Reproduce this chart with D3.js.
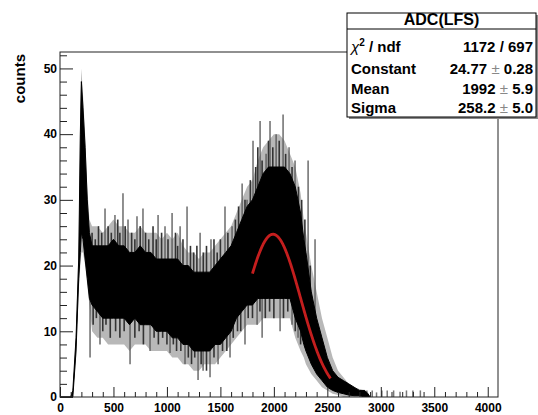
<!DOCTYPE html>
<html><head><meta charset="utf-8">
<script src="https://cdn.jsdelivr.net/npm/d3@7"></script>
<style>
body{margin:0;background:#fff}
text{font-family:"Liberation Sans",Arial,sans-serif;font-weight:bold;fill:#000}
</style>
</head><body>
<svg id="c" width="538" height="415"></svg>
<script>
// ---- data (histogram envelope per ADC position) ----
const adc    = [0,100,120,150,175,190,200,215,235,255,275,300,350,400,450,500,550,600,650,700,750,800,850,900,950,1000,1050,1100,1150,1200,1250,1300,1350,1400,1450,1500,1550,1600,1650,1700,1750,1800,1850,1900,1950,2000,2050,2100,2150,2200,2250,2280,2300,2350,2400,2450,2500,2550,2600,2650,2700,2750,2800,2850,2880,2900];
const haloLo = [0,0,0,6,16,20,22,22,20,17,14,10,9,9,8,8,8,8,7,8,8,8,7,7,7,7,6,6,5,5,4,4,5,5,5,6,7,8,9,10,11,11,11,12,12,12,12,12,12,9,7,6,5,3.5,2.5,1.5,1,0.5,0.3,0,0,0,0,0,0,0];
const coreLo = [0,0,0,7,18,22,25,24,21,18,15,14,13,12,12,12,12,12,11,12,11,11,11,10,10,10,9,9,8,8,7,7,7,7,8,8,9,10,12,13,14,14,15,15,15,15,15,15,15,12,10,8,7,5,3.5,2.5,1.5,1,0.7,0.5,0.3,0.2,0.2,0,0,0];
const coreHi = [0,0,1,9,21,40,48,44,38,30,25,23,23,23,23,24,23,23,22,22,23,22,22,21,21,21,21,21,20,20,19,19,19,19,20,21,22,23,25,27,29,30,32,34,35,35,35,35,34,32,28,24,22,16,12,9,6,4,3,2.5,2,1.5,1,1,0.5,0];
const haloHi = [0,0,1,10,24,45,50,46,40,32,27,26,26,25,26,27,26,26,25,25,26,25,25,25,24,25,24,25,23,22,22,21,22,22,23,24,25,26,28,30,32,33,36,38,39,40,40,39,37,35,31,27,25,20,16,12,9,6,4,3,2,1.5,1.2,1,0.5,0];

const spikeUpAdc   = [421,514,589,636,720,776,917,982,1048,1123,1188,1310,1412,1543,1609,1703,1749,1805,1871,1927,1964,2021,2086,2142,2198,2320,2385];
const spikeUpCount = [28.7,27.7,31,27,27.5,28.7,27.7,26,28,26,29,25,24,29,26,32.5,30,39,42,37,42,40,43,38,36,36,24];
const spikeDownAdc   = [281,374,655,842,1029,1169,1291,1338,1403,1478,1590,1730,1843,1890,2058,2170,2226];
const spikeDownCount = [6,8,5,7,6.7,5,2.6,4,3,5,6,8,11,9,10,11,9];
// smaller fluctuations along the band edges
const fineUpAdc   = [300,330,360,390,450,480,540,560,610,670,700,750,800,830,870,900,950,1010,1080,1100,1150,1220,1250,1280,1340,1370,1440,1470,1500,1570,1640,1670,1730,1780,1830,1850,1890,1950,1990,2050,2110,2170,2230,2260,2290,2340];
const fineUpCount = [25,24,26,25,26,25,27,25,26,25,24,26,25,24,26,24,25,24,25,23,24,23,22,23,22,23,24,22,24,25,27,29,30,33,35,38,36,39,38,39,37,35,32,30,27,20];
const fineDownAdc   = [310,340,400,430,470,520,560,600,700,740,780,880,920,960,1000,1060,1090,1130,1200,1230,1260,1320,1370,1440,1520,1560,1620,1660,1690,1760,1800,1870,1920,1960,2000,2090,2130,2200,2250];
const fineDownCount = [11,12,10,11,9,10,9,10,9,10,8,9,8,9,8,8,7,7,6,5,6,5,4,6,7,7,9,10,10,12,12,13,12,13,12,12,13,10,8];
const tailAdc   = [2870,2920,2960,3010,3060,3120,3180,3240,3300,3370];
const tailCount = [1,1,0.7,1,1,1,0.8,1,1,1];

// fit parameters (stat box)
const statTitle = "ADC(LFS)";
const chi2 = "1172 / 697";
const statNames  = ["Constant","Mean","Sigma"];
const statValues = ["24.77","1992","258.2"];
const statErrors = ["0.28","5.9","5.0"];
const fitConstant = 24.77, fitMean = 1992, fitSigma = 258.2;
const fitRange = [1800, 2530];

const xTicks = [0,500,1000,1500,2000,2500,3000,3500,4000];
const yTicks = [0,10,20,30,40,50];
const yTitle = "counts";

// ---- drawing ----
const svg = d3.select("#c");
const x = d3.scaleLinear([0,4096],[60,498]);
const y = d3.scaleLinear([0,52.5],[397,52]);

svg.append("defs").append("clipPath").attr("id","clip").append("rect")
  .attr("x",60).attr("y",52).attr("width",438).attr("height",345);

const g = svg.append("g").attr("clip-path","url(#clip)");
const pts = adc.map((a,i)=>({a,hl:haloLo[i],cl:coreLo[i],ch:coreHi[i],hh:haloHi[i]}));

g.append("path").datum(pts)
  .attr("d", d3.area().x(d=>x(d.a)).y0(d=>y(d.hl)).y1(d=>y(d.hh)))
  .attr("fill","#b8b8b8");

const hiAt = d3.scaleLinear(adc, coreHi), loAt = d3.scaleLinear(adc, coreLo);
function spikes(xs, ys, up, color, w){
  g.append("g").selectAll("line").data(xs).join("line")
    .attr("x1",d=>x(d)).attr("x2",d=>x(d))
    .attr("y1",d=>y(up?hiAt(d)-1:loAt(d)+1)).attr("y2",(d,i)=>y(ys[i]))
    .attr("stroke",color).attr("stroke-width",w);
}
spikes(fineUpAdc, fineUpCount, true, "#333", 1.6);
spikes(fineDownAdc, fineDownCount, false, "#333", 1.6);
spikes(spikeUpAdc, spikeUpCount, true, "#555", 1.3);
spikes(spikeDownAdc, spikeDownCount, false, "#555", 1.3);
g.append("g").selectAll("line").data(tailAdc).join("line")
  .attr("x1",d=>x(d)).attr("x2",d=>x(d))
  .attr("y1",y(0)).attr("y2",(d,i)=>y(tailCount[i]))
  .attr("stroke","#777").attr("stroke-width",1.5);

g.append("path").datum(pts)
  .attr("d", d3.area().x(d=>x(d.a)).y0(d=>y(d.cl)).y1(d=>y(d.ch)))
  .attr("fill","#000").attr("stroke","#000").attr("stroke-width",1);

// fit curve
const fitPts = d3.range(fitRange[0], fitRange[1]+1, 5);
g.append("path").datum(fitPts)
  .attr("d", d3.line().x(d=>x(d)).y(d=>y(fitConstant*Math.exp(-0.5*((d-fitMean)/fitSigma)**2))))
  .attr("fill","none").attr("stroke","#c41e1e").attr("stroke-width",2.8);

// frame
svg.append("rect").attr("x",60).attr("y",52).attr("width",438).attr("height",345)
  .attr("fill","none").attr("stroke","#222").attr("stroke-width",1);

// axes
const xa = svg.append("g").attr("transform","translate(0,397)")
  .call(d3.axisBottom(x).tickValues(xTicks).tickSize(-10).tickPadding(6.5).tickFormat(d3.format("d")));
const xm = svg.append("g").attr("transform","translate(0,397)")
  .call(d3.axisBottom(x).tickValues(d3.range(0,4097,100).filter(v=>v%500)).tickSize(-5).tickFormat(""));
const ya = svg.append("g").attr("transform","translate(60,0)")
  .call(d3.axisLeft(y).tickValues(yTicks).tickSize(-13).tickPadding(3).tickFormat(d3.format("d")));
const ym = svg.append("g").attr("transform","translate(60,0)")
  .call(d3.axisLeft(y).tickValues(d3.range(0,53,2).filter(v=>v%10)).tickSize(-7).tickFormat(""));
[xa,xm,ya,ym].forEach(a=>{a.select(".domain").remove();a.selectAll("line").attr("stroke","#222");
  a.selectAll("text").style("font-family","Liberation Sans, Arial, sans-serif").style("font-weight","bold").style("font-size","12px").attr("fill","#000");});

svg.append("text").attr("transform","translate(25,54) rotate(-90)")
  .attr("text-anchor","end").style("font-size","15px").text(yTitle);

// stat box
const bx=347, by=13, bw=189, bh=104;
svg.append("rect").attr("x",bx+2).attr("y",by+2).attr("width",bw).attr("height",bh).attr("fill","#888");
svg.append("rect").attr("x",bx).attr("y",by).attr("width",bw).attr("height",bh)
  .attr("fill","#fff").attr("stroke","#000").attr("stroke-width",1);
svg.append("line").attr("x1",bx).attr("x2",bx+bw).attr("y1",29).attr("y2",29).attr("stroke","#000");
svg.append("text").attr("x",bx+bw/2).attr("y",25).attr("text-anchor","middle")
  .style("font-size","16px").text(statTitle);
const rowY=[52,74,94,113];
const chiT = svg.append("text").attr("x",bx+4).attr("y",rowY[0]).style("font-size","15px");
chiT.append("tspan").style("font-weight","normal").style("font-style","italic").text("χ");
chiT.append("tspan").attr("dy",-6).style("font-size","10px").text("2");
chiT.append("tspan").attr("dy",6).text(" / ndf");
svg.append("text").attr("x",bx+bw-3).attr("y",rowY[0]).attr("text-anchor","end").style("font-size","15px").text(chi2);
statNames.forEach((n,i)=>{
  svg.append("text").attr("x",bx+4).attr("y",rowY[i+1]).style("font-size","15px").text(n);
  const t = svg.append("text").attr("x",bx+bw-3).attr("y",rowY[i+1]).attr("text-anchor","end").style("font-size","15px");
  t.append("tspan").text(statValues[i]+" ");
  t.append("tspan").style("font-weight","normal").attr("fill","#888").text("±");
  t.append("tspan").text(" "+statErrors[i]);
});
</script>
</body></html>
